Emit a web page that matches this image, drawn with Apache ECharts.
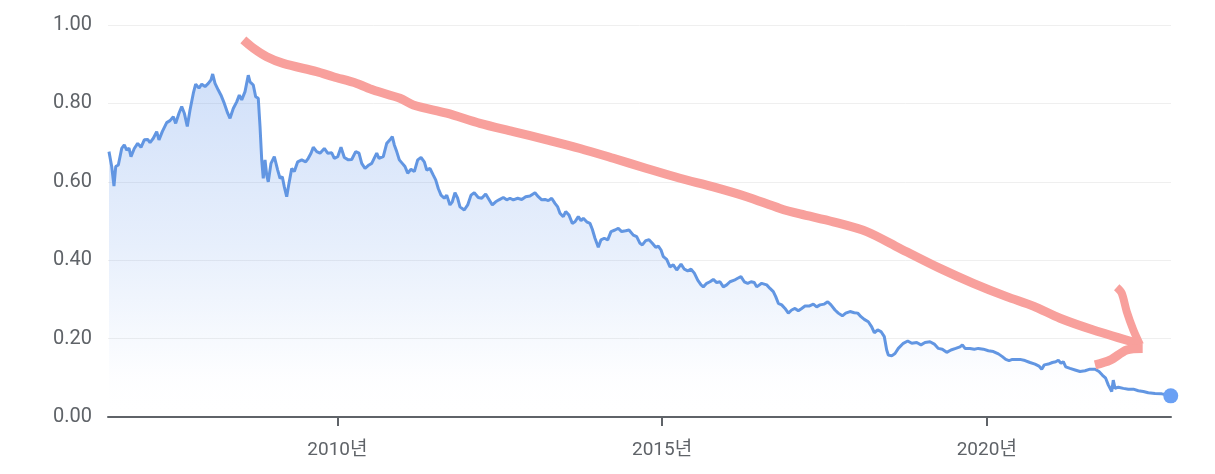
<!DOCTYPE html>
<html>
<head>
<meta charset="utf-8">
<script src="https://cdn.jsdelivr.net/npm/echarts@6/dist/echarts.min.js"></script>
<style>
html,body{margin:0;padding:0;background:#fff;}
#chart{width:1215px;height:474px;}
</style>
</head>
<body>
<div id="chart"></div>
<script>
// Price series (decimal year, value)
const years = [
2006.483,2006.525,2006.560,2006.587,2006.627,2006.679,2006.719,2006.756,2006.791,2006.822,
2006.873,2006.925,2006.976,2007.027,2007.079,2007.115,2007.166,2007.218,2007.253,2007.304,
2007.372,2007.423,2007.474,2007.510,2007.561,2007.603,2007.643,2007.689,2007.731,2007.782,
2007.818,2007.869,2007.911,2007.962,2008.013,2008.054,2008.080,2008.116,2008.166,2008.208,
2008.259,2008.311,2008.347,2008.397,2008.450,2008.490,2008.527,2008.578,2008.628,2008.655,
2008.705,2008.742,2008.782,2008.809,2008.835,2008.859,2008.886,2008.912,2008.936,2008.978,
2009.029,2009.081,2009.117,2009.152,2009.183,2009.220,2009.255,2009.297,2009.337,2009.389,
2009.451,2009.512,2009.552,2009.594,2009.629,2009.682,2009.733,2009.799,2009.851,2009.913,
2009.953,2010.005,2010.056,2010.107,2010.169,2010.221,2010.282,2010.333,2010.375,2010.426,
2010.487,2010.529,2010.606,2010.641,2010.707,2010.760,2010.810,2010.846,2010.877,2010.914,
2010.954,2011.000,2011.041,2011.083,2011.134,2011.185,2011.237,2011.288,2011.339,2011.376,
2011.426,2011.477,2011.514,2011.554,2011.596,2011.647,2011.684,2011.734,2011.770,2011.811,
2011.853,2011.888,2011.954,2012.007,2012.058,2012.108,2012.170,2012.223,2012.284,2012.335,
2012.386,2012.438,2012.489,2012.555,2012.608,2012.658,2012.709,2012.777,2012.839,2012.900,
2012.966,2013.043,2013.094,2013.147,2013.198,2013.248,2013.300,2013.351,2013.393,2013.428,
2013.479,2013.516,2013.567,2013.618,2013.659,2013.710,2013.752,2013.787,2013.839,2013.890,
2013.926,2013.967,2014.018,2014.060,2014.110,2014.163,2014.214,2014.275,2014.326,2014.378,
2014.440,2014.491,2014.557,2014.609,2014.660,2014.696,2014.748,2014.799,2014.850,2014.902,
2014.942,2014.984,2015.020,2015.071,2015.122,2015.173,2015.226,2015.292,2015.343,2015.395,
2015.446,2015.497,2015.549,2015.600,2015.635,2015.687,2015.738,2015.789,2015.841,2015.892,
2015.943,2015.995,2016.046,2016.112,2016.165,2016.215,2016.266,2016.319,2016.370,2016.420,
2016.457,2016.482,2016.534,2016.611,2016.662,2016.713,2016.750,2016.790,2016.842,2016.893,
2016.944,2016.996,2017.047,2017.098,2017.150,2017.201,2017.263,2017.329,2017.381,2017.432,
2017.498,2017.551,2017.601,2017.663,2017.714,2017.776,2017.828,2017.894,2017.960,2018.013,
2018.063,2018.114,2018.176,2018.228,2018.268,2018.320,2018.371,2018.422,2018.459,2018.484,
2018.536,2018.587,2018.638,2018.715,2018.783,2018.845,2018.922,2018.987,2019.049,2019.126,
2019.192,2019.254,2019.315,2019.383,2019.449,2019.522,2019.588,2019.624,2019.665,2019.742,
2019.808,2019.870,2019.947,2020.025,2020.102,2020.179,2020.240,2020.292,2020.343,2020.394,
2020.461,2020.512,2020.589,2020.666,2020.743,2020.804,2020.846,2020.886,2020.948,2021.010,
2021.062,2021.102,2021.143,2021.179,2021.216,2021.282,2021.359,2021.436,2021.513,2021.590,
2021.667,2021.728,2021.779,2021.831,2021.871,2021.924,2021.948,2021.975,2022.026,2022.103,
2022.180,2022.257,2022.334,2022.411,2022.488,2022.591,2022.694,2022.796,2022.833
];
const values = [
0.677,0.639,0.589,0.639,0.643,0.685,0.694,0.681,0.686,0.664,
0.685,0.698,0.688,0.707,0.708,0.700,0.711,0.728,0.707,0.728,
0.751,0.756,0.766,0.749,0.775,0.792,0.775,0.741,0.783,0.826,
0.849,0.839,0.849,0.843,0.851,0.860,0.875,0.851,0.834,0.821,
0.800,0.775,0.762,0.787,0.804,0.821,0.809,0.830,0.872,0.855,
0.847,0.817,0.813,0.741,0.656,0.609,0.656,0.617,0.600,0.647,
0.664,0.630,0.609,0.613,0.587,0.562,0.596,0.634,0.626,0.651,
0.656,0.651,0.660,0.673,0.688,0.677,0.673,0.685,0.673,0.674,
0.660,0.664,0.688,0.662,0.656,0.657,0.677,0.673,0.647,0.634,
0.643,0.647,0.673,0.660,0.664,0.698,0.707,0.715,0.694,0.677,
0.656,0.647,0.639,0.622,0.632,0.626,0.656,0.662,0.651,0.630,
0.634,0.617,0.605,0.583,0.566,0.558,0.566,0.541,0.549,0.572,
0.558,0.536,0.528,0.541,0.566,0.572,0.560,0.558,0.569,0.555,
0.541,0.549,0.554,0.560,0.554,0.558,0.554,0.558,0.555,0.562,
0.564,0.572,0.562,0.554,0.555,0.552,0.558,0.545,0.536,0.520,
0.511,0.524,0.515,0.494,0.498,0.511,0.501,0.507,0.498,0.494,
0.479,0.456,0.433,0.452,0.456,0.452,0.473,0.477,0.481,0.473,
0.475,0.477,0.464,0.460,0.443,0.439,0.450,0.452,0.443,0.433,
0.436,0.426,0.409,0.402,0.383,0.388,0.375,0.390,0.377,0.373,
0.377,0.367,0.349,0.337,0.332,0.341,0.345,0.351,0.343,0.345,
0.332,0.337,0.345,0.349,0.354,0.358,0.345,0.341,0.345,0.343,
0.332,0.337,0.341,0.337,0.328,0.320,0.307,0.290,0.286,0.277,
0.265,0.273,0.277,0.271,0.277,0.283,0.283,0.288,0.281,0.286,
0.288,0.294,0.286,0.273,0.265,0.258,0.265,0.269,0.266,0.265,
0.256,0.249,0.243,0.230,0.215,0.222,0.218,0.205,0.171,0.158,
0.156,0.162,0.175,0.188,0.194,0.188,0.190,0.184,0.190,0.192,
0.186,0.175,0.173,0.165,0.171,0.175,0.179,0.184,0.175,0.175,
0.173,0.175,0.173,0.169,0.167,0.161,0.154,0.147,0.144,0.147,
0.147,0.147,0.144,0.139,0.135,0.130,0.122,0.133,0.135,0.139,
0.141,0.145,0.137,0.141,0.128,0.124,0.120,0.116,0.118,0.122,
0.122,0.116,0.107,0.099,0.082,0.065,0.094,0.073,0.076,0.073,
0.071,0.071,0.067,0.065,0.062,0.060,0.059,0.056,0.054
];

// Hand-drawn red arrow annotation (in data units)
const arrowShaftX = [2008.552,2008.705,2008.912,2009.167,2009.682,2009.937,2010.298,2010.553,2010.964,2011.169,
  2011.684,2012.196,2012.709,2013.224,2013.737,2014.249,2014.763,2015.276,2015.789,2016.303,
  2016.816,2017.124,2017.637,2018.151,2018.664,2019.280,2019.793,2020.307,2020.717,2021.128,2021.641,2022.360];
const arrowShaftY = [0.962,0.941,0.919,0.902,0.881,0.868,0.851,0.834,0.813,0.796,
  0.775,0.749,0.728,0.707,0.685,0.660,0.634,0.609,0.587,0.562,
  0.532,0.518,0.498,0.473,0.430,0.379,0.341,0.307,0.283,0.252,0.222,0.186];
const arrowHeadUpperX = [2022.001,2022.078,2022.155,2022.257,2022.360];
const arrowHeadUpperY = [0.331,0.316,0.269,0.222,0.184];
const arrowHeadLowerX = [2021.667,2021.899,2022.155,2022.401];
const arrowHeadLowerY = [0.133,0.145,0.171,0.175];

const xTickYears = [2010, 2015, 2020];

const zip = (xs, ys) => xs.map((x, i) => [x, ys[i]]);
const priceData = zip(years, values);
const lastPoint = [years[years.length - 1], values[values.length - 1]];

const FONT = 'Roboto, "Noto Sans CJK KR", "Noto Sans", sans-serif';
const RED = '#f8a09c';
const BLUE = '#6296e2';

const chart = echarts.init(document.getElementById('chart'), null, {renderer: 'canvas'});
chart.setOption({
  animation: false,
  backgroundColor: '#ffffff',
  grid: {left: 108, right: 44, top: 25, bottom: 57, containLabel: false},
  xAxis: {
    type: 'value',
    min: 2006.468,
    max: 2022.837,
    axisLine: {show: true, lineStyle: {color: '#5f6368', width: 2}},
    axisTick: {show: true, customValues: xTickYears, length: 9, lineStyle: {color: '#5f6368', width: 2}},
    axisLabel: {
      customValues: xTickYears,
      formatter: v => v + '년',
      color: '#5f6368',
      fontFamily: FONT,
      fontSize: 19,
      margin: 24
    },
    splitLine: {show: false}
  },
  yAxis: {
    type: 'value',
    min: 0,
    max: 1,
    interval: 0.2,
    axisLine: {show: false},
    axisTick: {show: false},
    axisLabel: {
      formatter: v => v.toFixed(2),
      color: '#5f6368',
      fontFamily: FONT,
      fontSize: 20,
      margin: 16
    },
    splitLine: {show: true, lineStyle: {color: '#efefef', width: 1}}
  },
  series: [
    {
      type: 'line',
      data: priceData,
      showSymbol: false,
      lineStyle: {color: BLUE, width: 3},
      itemStyle: {color: BLUE},
      areaStyle: {
        color: new echarts.graphic.LinearGradient(0, 0, 0, 1, [
          {offset: 0, color: 'rgba(98,150,235,0.42)'},
          {offset: 0.5, color: 'rgba(98,150,235,0.22)'},
          {offset: 0.88, color: 'rgba(98,150,235,0.02)'},
          {offset: 1, color: 'rgba(255,255,255,0)'}
        ])
      },
      z: 2
    },
    {
      type: 'scatter',
      data: [lastPoint],
      symbol: 'circle',
      symbolSize: 15,
      itemStyle: {color: '#6aa0f4', opacity: 1},
      z: 3
    },
    {
      type: 'line',
      data: zip(arrowShaftX, arrowShaftY),
      showSymbol: false,
      smooth: 0.3,
      lineStyle: {color: RED, width: 9, cap: 'butt', join: 'round'},
      z: 5
    },
    {
      type: 'line',
      data: zip(arrowHeadUpperX, arrowHeadUpperY),
      showSymbol: false,
      smooth: 0.3,
      lineStyle: {color: RED, width: 8, cap: 'butt', join: 'round'},
      z: 5
    },
    {
      type: 'line',
      data: zip(arrowHeadLowerX, arrowHeadLowerY),
      showSymbol: false,
      smooth: 0.3,
      lineStyle: {color: RED, width: 9, cap: 'butt', join: 'round'},
      z: 5
    }
  ]
});
</script>
</body>
</html>
